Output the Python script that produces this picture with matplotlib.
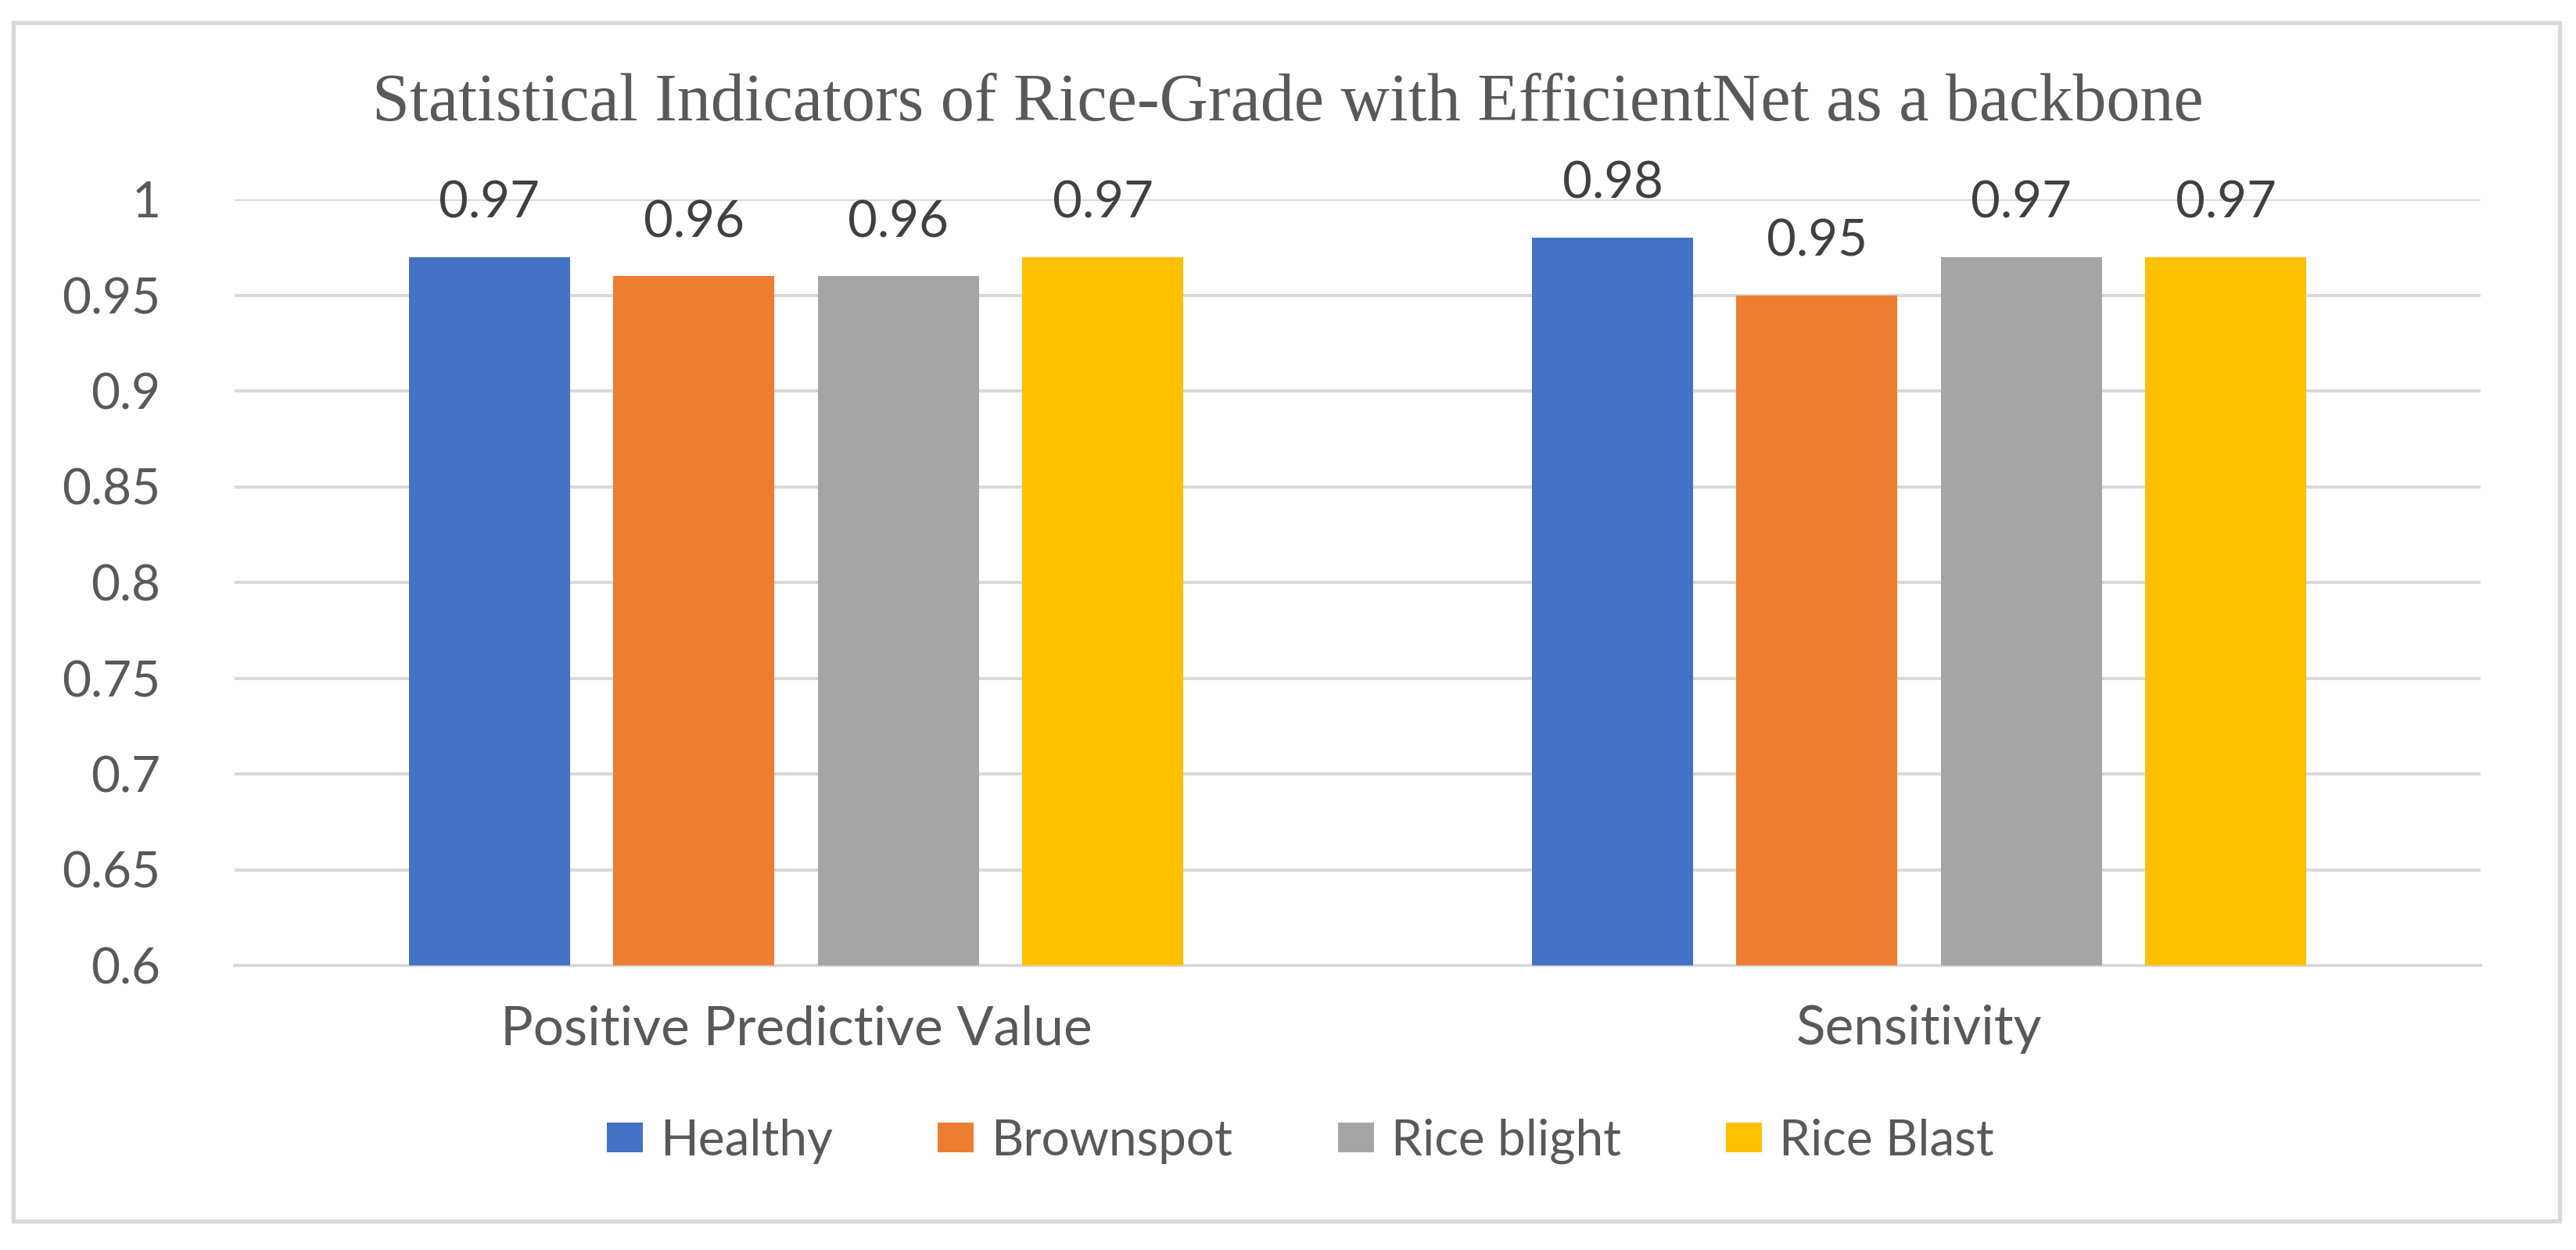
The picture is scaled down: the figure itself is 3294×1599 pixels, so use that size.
import matplotlib
matplotlib.use("Agg")
import matplotlib.pyplot as plt
import numpy as np
from matplotlib.patches import Rectangle

# Data
categories = ["Positive Predictive Value", "Sensitivity"]
series = ["Healthy", "Brownspot", "Rice blight", "Rice Blast"]
values = {
    "Healthy":     [0.97, 0.98],
    "Brownspot":   [0.96, 0.95],
    "Rice blight": [0.96, 0.97],
    "Rice Blast":  [0.97, 0.97],
}
colors = ["#4472C4", "#ED7D31", "#A5A5A5", "#FFC000"]
yticks = [0.6, 0.65, 0.7, 0.75, 0.8, 0.85, 0.9, 0.95, 1.0]
ytick_labels = ["0.6", "0.65", "0.7", "0.75", "0.8", "0.85", "0.9", "0.95", "1"]

text_color = "#595959"
grid_color = "#D9D9D9"
font = "Lato"

fig = plt.figure(figsize=(32.94, 15.99), dpi=100)
fig.patch.set_facecolor("white")

# chart border
fig.patches.append(Rectangle((17 / 3294, 1 - 1562 / 1599), (3273 - 17) / 3294, (1562 - 29) / 1599,
                             transform=fig.transFigure, fill=False, edgecolor=grid_color, linewidth=3.8))

ax = fig.add_axes([300 / 3294, 1 - 1235 / 1599, (3172 - 300) / 3294, (1235 - 255) / 1599])

x = np.arange(len(categories))
width = 0.1435
step = 0.182
for i, name in enumerate(series):
    pos = x + (i - 1.5) * step
    bars = ax.bar(pos, values[name], width, bottom=0, color=colors[i], label=name, zorder=3)
    for b, v in zip(bars, values[name]):
        ax.annotate(f"{v:.2f}", (b.get_x() + b.get_width() / 2, v), xytext=(0, 36),
                    textcoords="offset points", ha="center", va="baseline",
                    fontsize=47, color="#404040", family=font, annotation_clip=False)

ax.set_ylim(0.6, 1.0)
ax.set_xlim(-0.5, 1.5)
ax.set_yticks(yticks)
ax.set_yticklabels(ytick_labels, family=font, fontsize=46, color=text_color)
ax.set_xticks(x)
ax.set_xticklabels(categories, family=font, fontsize=50, color=text_color)
for lbl in ax.get_xticklabels():
    lbl.set_va("baseline")
ax.tick_params(axis="y", length=0, pad=68)
ax.tick_params(axis="x", length=0, pad=73)
ax.grid(axis="y", color=grid_color, linewidth=2.9, zorder=0)
for s in ["top", "right", "left"]:
    ax.spines[s].set_visible(False)
ax.spines["bottom"].set_color(grid_color)
ax.spines["bottom"].set_linewidth(2.9)

fig.text(0.5, 1 - 154 / 1599, "Statistical Indicators of Rice-Grade with EfficientNet as a backbone",
         ha="center", va="baseline", fontsize=62, color=text_color, family="Liberation Serif")

leg = fig.legend(loc="center", bbox_to_anchor=(1663 / 3294, 1 - 1460 / 1599), ncol=4, frameon=False,
                 prop={"family": font, "size": 46}, handlelength=0.72, handleheight=0.55,
                 handletextpad=0.35, columnspacing=2.1)
for t in leg.get_texts():
    t.set_color(text_color)

fig.savefig("out.png", dpi=100)
